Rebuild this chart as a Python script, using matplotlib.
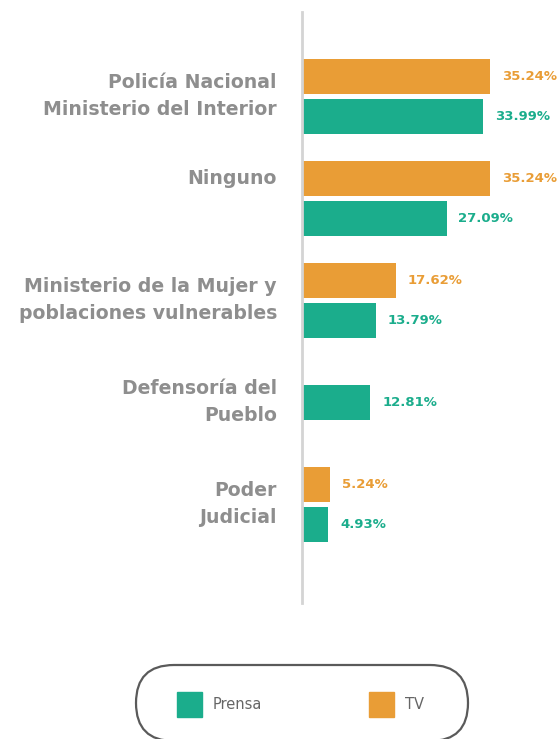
"""Horizontal grouped bars: Prensa vs TV by institution, with a pill legend."""

import numpy as np
import matplotlib

matplotlib.use("Agg")
import matplotlib.pyplot as plt  # noqa: E402
from matplotlib.patches import FancyBboxPatch, Rectangle  # noqa: E402

categories = [
    "Policía Nacional\nMinisterio del Interior",
    "Ninguno",
    "Ministerio de la Mujer y\npoblaciones vulnerables",
    "Defensoría del\nPueblo",
    "Poder\nJudicial",
]
tv = [35.24, 35.24, 17.62, None, 5.24]
prensa = [33.99, 27.09, 13.79, 12.81, 4.93]
series_names = ["Prensa", "TV"]

ORANGE = "#E99D36"
TEAL = "#1BAD8C"
LABEL_GRAY = "#8E8E8E"
FONT = "DejaVu Sans"

W, H, DPI = 560, 739, 100
fig = plt.figure(figsize=(W / DPI, H / DPI), dpi=DPI)

# main axes in pixel terms: x from 302 px to right edge, y from 12 px to 603 px
px_per_unit_x = 5.335
px_per_unit_y = 102.0
ax = fig.add_axes([302 / W, (H - 603) / H, (W - 302) / W, 591 / H])
ax.set_xlim(0, (W - 302) / px_per_unit_x)
top = -84 / px_per_unit_y
ax.set_ylim(top + 591 / px_per_unit_y, top)

bar_h = 35 / px_per_unit_y
off = 20 / px_per_unit_y
ypos = np.arange(len(categories))


def value_label(x, y, color):
    ax.annotate(f"{x:.2f}%", (x, y), xytext=(8.5, 0), textcoords="offset points",
                ha="left", va="center", color=color, fontsize=9.5,
                fontweight="bold", family=FONT, annotation_clip=False)


for i, (t, p) in enumerate(zip(tv, prensa)):
    if t is None:
        yp = ypos[i]
    else:
        yt = ypos[i] - off
        yp = ypos[i] + off
        ax.barh(yt, t, height=bar_h, color=ORANGE)
        value_label(t, yt, ORANGE)
    ax.barh(yp, p, height=bar_h, color=TEAL)
    value_label(p, yp, TEAL)

    # single-line labels sit beside the top bar, wrapped ones on the group centre
    ly = ypos[i] if "\n" in categories[i] or t is None else ypos[i] - off
    ax.annotate(categories[i], (0, ly), xytext=(-18, 0), textcoords="offset points",
                ha="right", va="center", multialignment="right", color=LABEL_GRAY,
                fontsize=13.6, fontweight="bold", family=FONT, linespacing=1.55,
                annotation_clip=False)

for s in ("top", "right", "bottom"):
    ax.spines[s].set_visible(False)
ax.spines["left"].set_color("#D4D4D4")
ax.spines["left"].set_linewidth(2)
ax.set_xticks([])
ax.set_yticks([])

# legend drawn as a pill in pixel coordinates (y measured from the bottom)
lg = fig.add_axes([0, 0, 1, 1])
lg.set_xlim(0, W)
lg.set_ylim(0, H)
lg.axis("off")
lg.add_patch(FancyBboxPatch((136, H - 741), 332, 76,
                            boxstyle="round,pad=0,rounding_size=38",
                            fill=False, edgecolor="#5A5A5A", linewidth=1.6,
                            clip_on=False))
for name, color, x0 in zip(series_names, [TEAL, ORANGE], [177, 369]):
    lg.add_patch(Rectangle((x0, H - 717), 25, 25, color=color))
    lg.text(x0 + 36, H - 704.5, name, ha="left", va="center", color="#666666",
            fontsize=10.5, family=FONT)

fig.savefig("out.png", dpi=DPI)
